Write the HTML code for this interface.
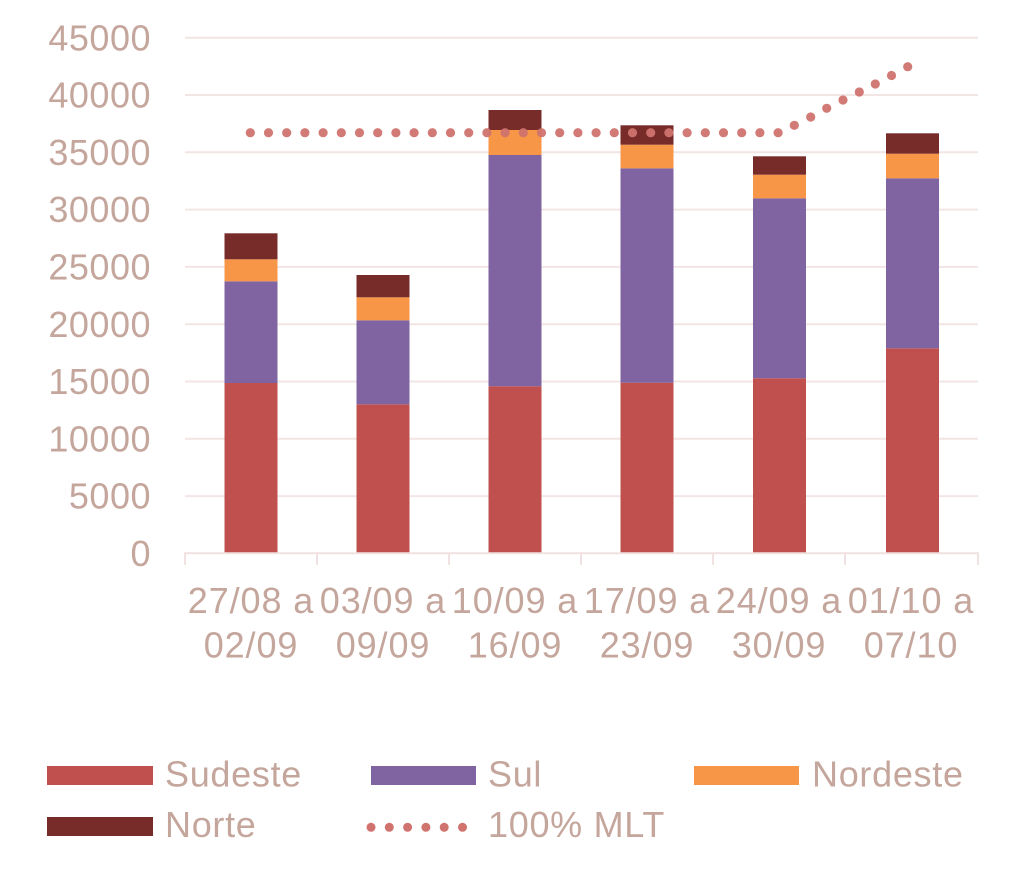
<!DOCTYPE html>
<html>
<head>
<meta charset="utf-8">
<style>
html,body{margin:0;padding:0;background:#fff;}
svg{display:block;}
text{font-family:"Liberation Sans",sans-serif;fill:#c4a69c;font-size:36px;}
</style>
</head>
<body>
<svg width="1024" height="877" viewBox="0 0 1024 877" xmlns="http://www.w3.org/2000/svg">
  <!-- gridlines -->
  <g stroke="#f2e6e4" stroke-width="2">
    <line x1="185" y1="37.7" x2="978" y2="37.7"/>
    <line x1="185" y1="95" x2="978" y2="95"/>
    <line x1="185" y1="152.3" x2="978" y2="152.3"/>
    <line x1="185" y1="209.6" x2="978" y2="209.6"/>
    <line x1="185" y1="266.9" x2="978" y2="266.9"/>
    <line x1="185" y1="324.2" x2="978" y2="324.2"/>
    <line x1="185" y1="381.5" x2="978" y2="381.5"/>
    <line x1="185" y1="438.8" x2="978" y2="438.8"/>
    <line x1="185" y1="496.1" x2="978" y2="496.1"/>
  </g>
  <!-- y labels -->
  <g text-anchor="end" letter-spacing="0.5">
    <text x="151" y="50.3">45000</text>
    <text x="151" y="107.6">40000</text>
    <text x="151" y="164.9">35000</text>
    <text x="151" y="222.2">30000</text>
    <text x="151" y="279.5">25000</text>
    <text x="151" y="336.8">20000</text>
    <text x="151" y="394.1">15000</text>
    <text x="151" y="451.4">10000</text>
    <text x="151" y="508.7">5000</text>
    <text x="151" y="566">0</text>
  </g>
  <!-- bars -->
  <g>
    <rect x="224.5" y="383" width="53" height="170.3" fill="#c0504d"/>
    <rect x="224.5" y="281.3" width="53" height="101.7" fill="#8064a2"/>
    <rect x="224.5" y="259.3" width="53" height="22" fill="#f79646"/>
    <rect x="224.5" y="233.3" width="53" height="26" fill="#772c2a"/>
    <rect x="356.5" y="404.3" width="53" height="149" fill="#c0504d"/>
    <rect x="356.5" y="320.3" width="53" height="84" fill="#8064a2"/>
    <rect x="356.5" y="297.3" width="53" height="23" fill="#f79646"/>
    <rect x="356.5" y="275" width="53" height="22.3" fill="#772c2a"/>
    <rect x="488.5" y="386.3" width="53" height="167" fill="#c0504d"/>
    <rect x="488.5" y="155" width="53" height="231.3" fill="#8064a2"/>
    <rect x="488.5" y="130" width="53" height="25" fill="#f79646"/>
    <rect x="488.5" y="110" width="53" height="20" fill="#772c2a"/>
    <rect x="620.5" y="382.7" width="53" height="170.6" fill="#c0504d"/>
    <rect x="620.5" y="168.3" width="53" height="214.4" fill="#8064a2"/>
    <rect x="620.5" y="144.7" width="53" height="23.6" fill="#f79646"/>
    <rect x="620.5" y="125.3" width="53" height="19.4" fill="#772c2a"/>
    <rect x="753" y="378.3" width="53" height="175" fill="#c0504d"/>
    <rect x="753" y="198.3" width="53" height="180" fill="#8064a2"/>
    <rect x="753" y="174.7" width="53" height="23.6" fill="#f79646"/>
    <rect x="753" y="156.3" width="53" height="18.4" fill="#772c2a"/>
    <rect x="886" y="348.3" width="53" height="205" fill="#c0504d"/>
    <rect x="886" y="178.3" width="53" height="170" fill="#8064a2"/>
    <rect x="886" y="153.7" width="53" height="24.6" fill="#f79646"/>
    <rect x="886" y="133.3" width="53" height="20.4" fill="#772c2a"/>
  </g>
  <!-- axis -->
  <g stroke="#f0e2e0" stroke-width="2">
    <line x1="184" y1="553.3" x2="979" y2="553.3"/>
    <line x1="185" y1="553" x2="185" y2="565"/>
    <line x1="317" y1="553" x2="317" y2="565"/>
    <line x1="449" y1="553" x2="449" y2="565"/>
    <line x1="581" y1="553" x2="581" y2="565"/>
    <line x1="713" y1="553" x2="713" y2="565"/>
    <line x1="845" y1="553" x2="845" y2="565"/>
    <line x1="978" y1="553" x2="978" y2="565"/>
  </g>
  <!-- dotted line (explicit dots) -->
  <g fill="#d0736f" opacity="0.95">
    <circle cx="250.3" cy="132.7" r="4.6"/><circle cx="268.5" cy="132.7" r="4.6"/><circle cx="286.7" cy="132.7" r="4.6"/><circle cx="304.9" cy="132.7" r="4.6"/><circle cx="323.1" cy="132.7" r="4.6"/><circle cx="341.3" cy="132.7" r="4.6"/><circle cx="359.5" cy="132.7" r="4.6"/><circle cx="377.7" cy="132.7" r="4.6"/><circle cx="395.9" cy="132.7" r="4.6"/><circle cx="414.1" cy="132.7" r="4.6"/>
    <circle cx="432.3" cy="132.7" r="4.6"/><circle cx="450.5" cy="132.7" r="4.6"/><circle cx="468.7" cy="132.7" r="4.6"/><circle cx="486.9" cy="132.7" r="4.6"/><circle cx="505.1" cy="132.7" r="4.6"/><circle cx="523.3" cy="132.7" r="4.6"/><circle cx="541.5" cy="132.7" r="4.6"/><circle cx="559.7" cy="132.7" r="4.6"/><circle cx="577.9" cy="132.7" r="4.6"/><circle cx="596.1" cy="132.7" r="4.6"/>
    <circle cx="614.3" cy="132.7" r="4.6"/><circle cx="632.5" cy="132.7" r="4.6"/><circle cx="650.7" cy="132.7" r="4.6"/><circle cx="668.9" cy="132.7" r="4.6"/><circle cx="687.1" cy="132.7" r="4.6"/><circle cx="705.3" cy="132.7" r="4.6"/><circle cx="723.5" cy="132.7" r="4.6"/><circle cx="741.7" cy="132.7" r="4.6"/><circle cx="759.9" cy="132.7" r="4.6"/><circle cx="778.1" cy="132.7" r="4.6"/>
    <circle cx="794.3" cy="125.3" r="4.6"/><circle cx="810.7" cy="117" r="4.6"/><circle cx="826.7" cy="108.3" r="4.6"/><circle cx="843" cy="100" r="4.6"/><circle cx="859.3" cy="92" r="4.6"/><circle cx="875.3" cy="84" r="4.6"/><circle cx="891.5" cy="75.5" r="4.6"/><circle cx="907.7" cy="66.7" r="4.6"/>
  </g>
  <!-- x labels -->
  <g text-anchor="middle" letter-spacing="0.9">
    <text x="251" y="613">27/08 a</text>
    <text x="251" y="657.7">02/09</text>
    <text x="383" y="613">03/09 a</text>
    <text x="383" y="657.7">09/09</text>
    <text x="515" y="613">10/09 a</text>
    <text x="515" y="657.7">16/09</text>
    <text x="647" y="613">17/09 a</text>
    <text x="647" y="657.7">23/09</text>
    <text x="779" y="613">24/09 a</text>
    <text x="779" y="657.7">30/09</text>
    <text x="911" y="613">01/10 a</text>
    <text x="911" y="657.7">07/10</text>
  </g>
  <!-- legend -->
  <rect x="47" y="766" width="106" height="19" fill="#c0504d"/>
  <text x="165" y="786.7" letter-spacing="0.7">Sudeste</text>
  <rect x="371" y="766" width="105" height="19" fill="#8064a2"/>
  <text x="488" y="786.7" letter-spacing="0.7">Sul</text>
  <rect x="694" y="766" width="105" height="19" fill="#f79646"/>
  <text x="812" y="786.7" letter-spacing="0.7">Nordeste</text>
  <rect x="47" y="817" width="106" height="19" fill="#772c2a"/>
  <text x="165" y="837" letter-spacing="0.7">Norte</text>
  <g fill="#d0736f">
    <circle cx="371" cy="827.3" r="4.5"/>
    <circle cx="389.3" cy="827.3" r="4.5"/>
    <circle cx="407.6" cy="827.3" r="4.5"/>
    <circle cx="425.9" cy="827.3" r="4.5"/>
    <circle cx="444.2" cy="827.3" r="4.5"/>
    <circle cx="462.5" cy="827.3" r="4.5"/>
  </g>
  <text x="488" y="837" letter-spacing="0.7">100% MLT</text>
</svg>
</body>
</html>
